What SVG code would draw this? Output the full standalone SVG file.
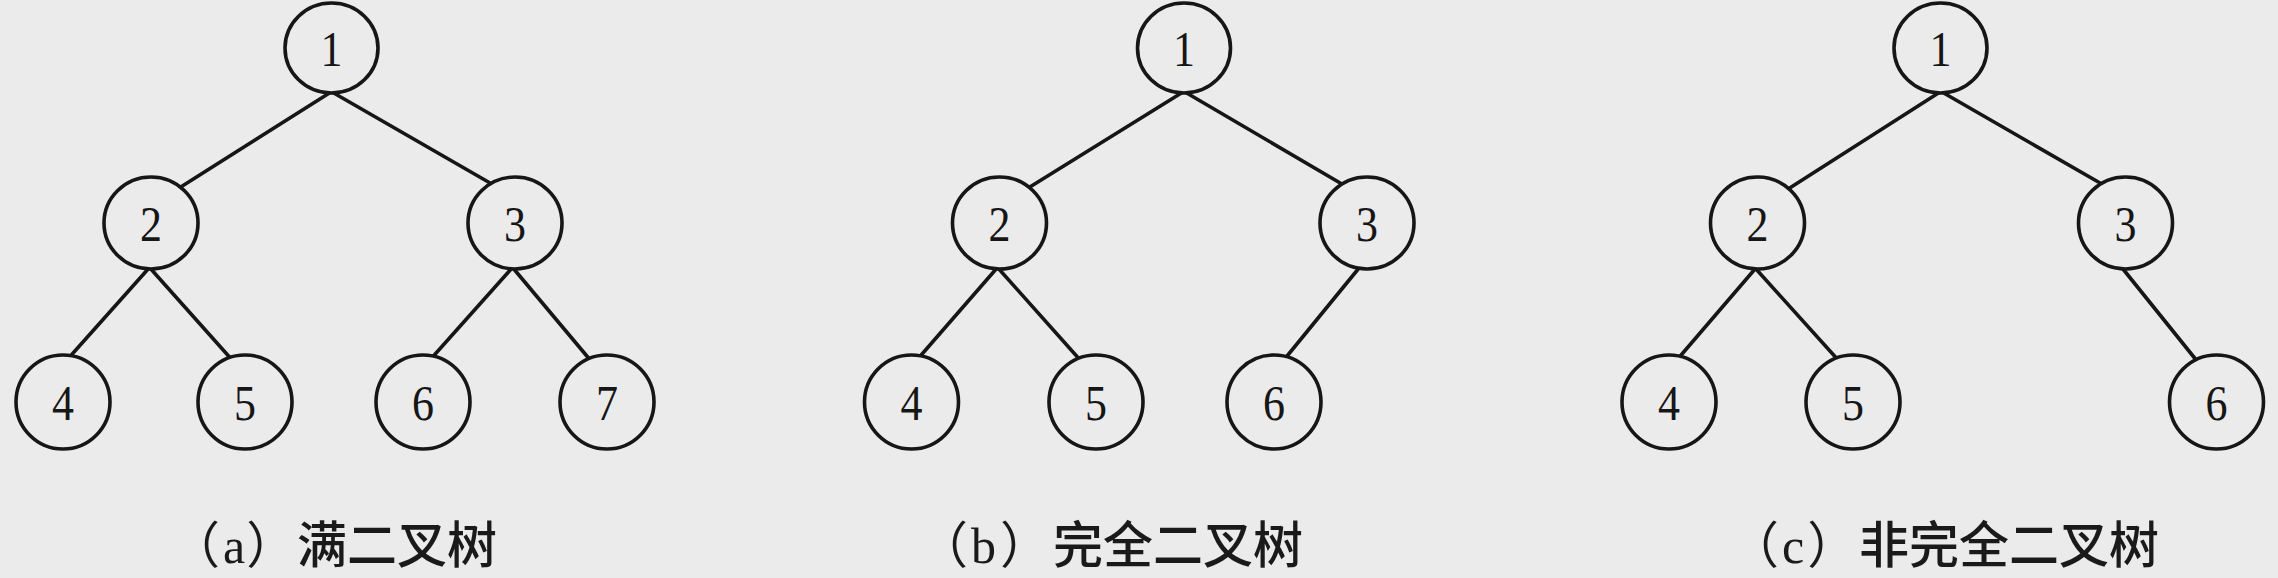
<svg xmlns="http://www.w3.org/2000/svg" width="2278" height="578" viewBox="0 0 2278 578">
<style>
.bg{fill:#ebebeb}
.edge{stroke:#161616;stroke-width:3.6;stroke-linecap:round;fill:none}
.node ellipse{fill:#ebebeb;stroke:#161616;stroke-width:3.6}
.node text{font-family:"Liberation Serif","Times New Roman",serif;font-size:51px;fill:#161616;text-anchor:middle}
.cap{font-family:"Liberation Serif","Noto Sans CJK SC",serif;font-size:50px;fill:#1a1a1a}
.cjk{font-family:"Noto Sans CJK SC",sans-serif;font-weight:500}
</style>
<rect class="bg" x="0" y="0" width="2278" height="578"/>
<g id="connectors">
<line class="edge" x1="331" y1="92" x2="176" y2="190"/>
<line class="edge" x1="332" y1="92" x2="497" y2="187"/>
<line class="edge" x1="149" y1="268" x2="66" y2="361"/>
<line class="edge" x1="150" y1="268" x2="233" y2="361"/>
<line class="edge" x1="512" y1="268" x2="429" y2="361"/>
<line class="edge" x1="513" y1="268" x2="591" y2="361"/>
<line class="edge" x1="1183" y1="92" x2="1025" y2="190"/>
<line class="edge" x1="1185" y1="92" x2="1347" y2="187"/>
<line class="edge" x1="997" y1="268" x2="916" y2="361"/>
<line class="edge" x1="998" y1="268" x2="1081" y2="361"/>
<line class="edge" x1="1359" y1="268" x2="1283" y2="361"/>
<line class="edge" x1="1940" y1="92" x2="1785" y2="191"/>
<line class="edge" x1="1942" y1="92" x2="2107" y2="187"/>
<line class="edge" x1="1755" y1="269" x2="1676" y2="361"/>
<line class="edge" x1="1756" y1="269" x2="1839" y2="361"/>
<line class="edge" x1="2123" y1="269" x2="2197" y2="361"/>
</g>
<g id="a1" class="node"><ellipse cx="331.5" cy="48" rx="46.5" ry="45"/><text x="331.5" y="66" textLength="22" lengthAdjust="spacingAndGlyphs">1</text></g>
<g id="a2" class="node"><ellipse cx="151" cy="223" rx="47" ry="46"/><text x="151" y="241" textLength="22" lengthAdjust="spacingAndGlyphs">2</text></g>
<g id="a3" class="node"><ellipse cx="515" cy="223" rx="47" ry="46"/><text x="515" y="241" textLength="22" lengthAdjust="spacingAndGlyphs">3</text></g>
<g id="a4" class="node"><ellipse cx="63" cy="402" rx="47" ry="47"/><text x="63" y="420" textLength="22" lengthAdjust="spacingAndGlyphs">4</text></g>
<g id="a5" class="node"><ellipse cx="245" cy="402" rx="47" ry="47"/><text x="245" y="420" textLength="22" lengthAdjust="spacingAndGlyphs">5</text></g>
<g id="a6" class="node"><ellipse cx="423" cy="402" rx="47" ry="47"/><text x="423" y="420" textLength="22" lengthAdjust="spacingAndGlyphs">6</text></g>
<g id="a7" class="node"><ellipse cx="607" cy="402" rx="47" ry="47"/><text x="607" y="420" textLength="22" lengthAdjust="spacingAndGlyphs">7</text></g>
<g id="b1" class="node"><ellipse cx="1184" cy="48" rx="46.5" ry="45"/><text x="1184" y="66" textLength="22" lengthAdjust="spacingAndGlyphs">1</text></g>
<g id="b2" class="node"><ellipse cx="999.5" cy="223" rx="47" ry="46"/><text x="999.5" y="241" textLength="22" lengthAdjust="spacingAndGlyphs">2</text></g>
<g id="b3" class="node"><ellipse cx="1367" cy="223" rx="47" ry="46"/><text x="1367" y="241" textLength="22" lengthAdjust="spacingAndGlyphs">3</text></g>
<g id="b4" class="node"><ellipse cx="911.5" cy="402" rx="47" ry="47"/><text x="911.5" y="420" textLength="22" lengthAdjust="spacingAndGlyphs">4</text></g>
<g id="b5" class="node"><ellipse cx="1096" cy="402" rx="47" ry="47"/><text x="1096" y="420" textLength="22" lengthAdjust="spacingAndGlyphs">5</text></g>
<g id="b6" class="node"><ellipse cx="1274" cy="402" rx="47" ry="47"/><text x="1274" y="420" textLength="22" lengthAdjust="spacingAndGlyphs">6</text></g>
<g id="c1" class="node"><ellipse cx="1940.5" cy="48" rx="46.5" ry="45"/><text x="1940.5" y="66" textLength="22" lengthAdjust="spacingAndGlyphs">1</text></g>
<g id="c2" class="node"><ellipse cx="1757.5" cy="223" rx="47" ry="46"/><text x="1757.5" y="241" textLength="22" lengthAdjust="spacingAndGlyphs">2</text></g>
<g id="c3" class="node"><ellipse cx="2125.5" cy="223" rx="47" ry="46"/><text x="2125.5" y="241" textLength="22" lengthAdjust="spacingAndGlyphs">3</text></g>
<g id="c4" class="node"><ellipse cx="1669" cy="402" rx="47" ry="47"/><text x="1669" y="420" textLength="22" lengthAdjust="spacingAndGlyphs">4</text></g>
<g id="c5" class="node"><ellipse cx="1853" cy="402" rx="47" ry="47"/><text x="1853" y="420" textLength="22" lengthAdjust="spacingAndGlyphs">5</text></g>
<g id="c6" class="node"><ellipse cx="2216.5" cy="402" rx="47" ry="47"/><text x="2216.5" y="420" textLength="22" lengthAdjust="spacingAndGlyphs">6</text></g>
<g id="captions">
<text class="cap" x="170" y="563">（<tspan dx="3">a</tspan><tspan dx="1">）</tspan><tspan class="cjk" x="297">满二叉树</tspan></text>
<text class="cap" x="918" y="563">（<tspan dx="3">b</tspan><tspan dx="4">）</tspan><tspan class="cjk" x="1053">完全二叉树</tspan></text>
<text class="cap" x="1729" y="563">（<tspan dx="3">c</tspan><tspan dx="3">）</tspan><tspan class="cjk" x="1859">非完全二叉树</tspan></text>
</g>
</svg>
